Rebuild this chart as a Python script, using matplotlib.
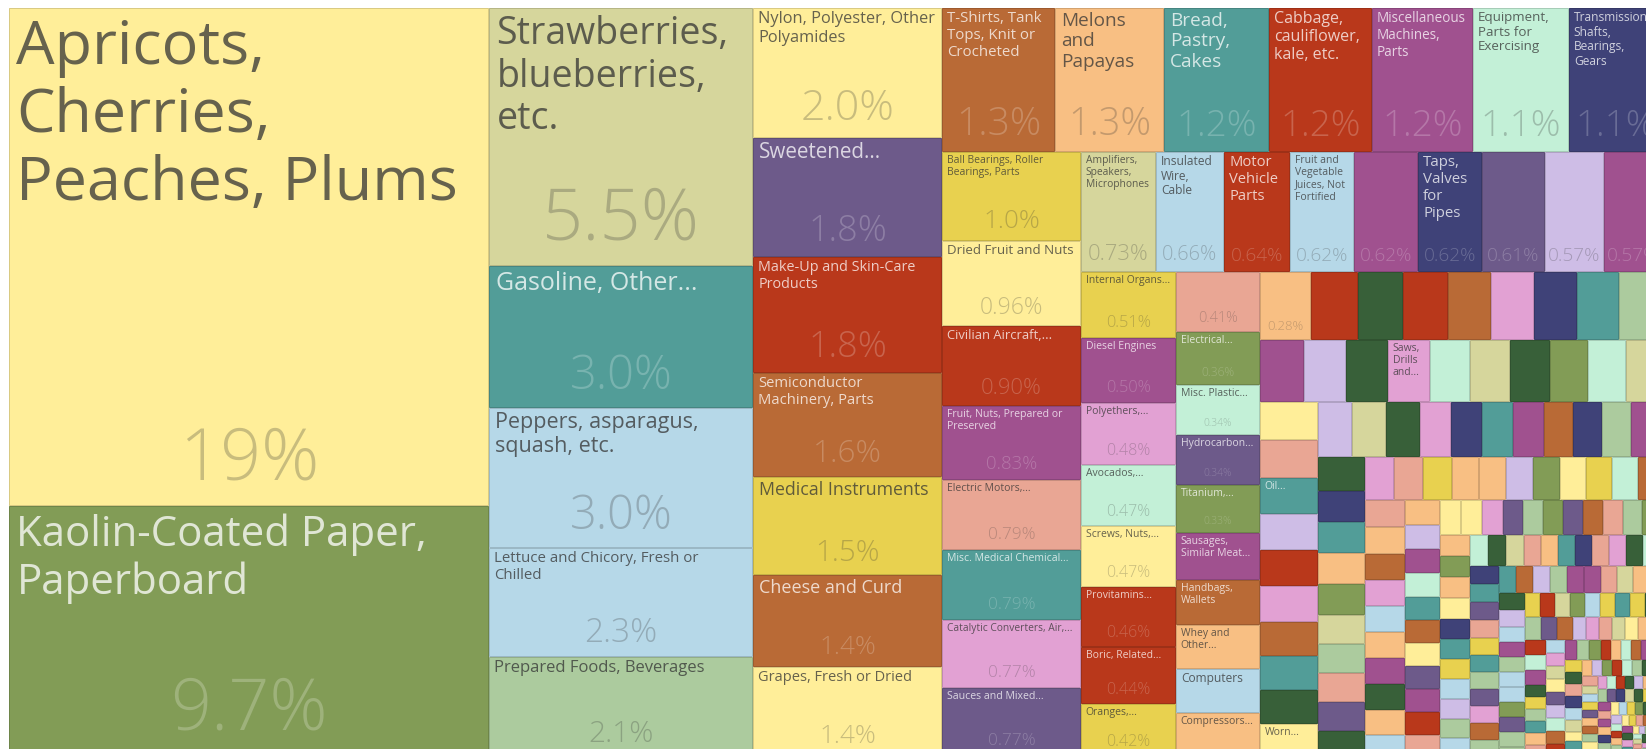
import math
import numpy as np
import matplotlib
matplotlib.use("Agg")
import matplotlib.pyplot as plt
from matplotlib.patches import Rectangle
from matplotlib import colors as mcolors

# ---------------- data ----------------
names = [
    "Apricots,\nCherries,\nPeaches, Plums",
    "Kaolin-Coated Paper,\nPaperboard",
    "Strawberries,\nblueberries,\netc.",
    "Gasoline, Other...",
    "Peppers, asparagus,\nsquash, etc.",
    "Lettuce and Chicory, Fresh or\nChilled",
    "Prepared Foods, Beverages",
    "Nylon, Polyester, Other\nPolyamides",
    "Sweetened...",
    "Make-Up and Skin-Care\nProducts",
    "Semiconductor\nMachinery, Parts",
    "Medical Instruments",
    "Cheese and Curd",
    "Grapes, Fresh or Dried",
    "T-Shirts, Tank\nTops, Knit or\nCrocheted",
    "Melons\nand\nPapayas",
    "Bread,\nPastry,\nCakes",
    "Cabbage,\ncauliflower,\nkale, etc.",
    "Miscellaneous\nMachines,\nParts",
    "Equipment,\nParts for\nExercising",
    "Transmission\nShafts,\nBearings,\nGears",
    "Ball Bearings, Roller\nBearings, Parts",
    "Dried Fruit and Nuts",
    "Civilian Aircraft,...",
    "Fruit, Nuts, Prepared or\nPreserved",
    "Electric Motors,...",
    "Misc. Medical Chemical...",
    "Catalytic Converters, Air,...",
    "Sauces and Mixed...",
    "Amplifiers,\nSpeakers,\nMicrophones",
    "Insulated\nWire,\nCable",
    "Motor\nVehicle\nParts",
    "Fruit and\nVegetable\nJuices, Not\nFortified",
    "",
    "Taps,\nValves\nfor\nPipes",
    "",
    "",
    "",
    "Internal Organs...",
    "Diesel Engines",
    "Polyethers,...",
    "Avocados,...",
    "Screws, Nuts,...",
    "Provitamins...",
    "Boric, Related...",
    "Oranges,...",
    "",
    "Electrical...",
    "Misc. Plastic...",
    "Hydrocarbon...",
    "Titanium,...",
    "Sausages,\nSimilar Meat...",
    "Handbags,\nWallets",
    "Whey and\nOther...",
    "Computers",
    "Compressors...",
]

shares = [
    19.4, 9.74, 5.53, 3.04, 3.00, 2.33, 2.12,
    2.00, 1.82, 1.78, 1.60, 1.50, 1.42, 1.38,
    1.32, 1.28, 1.23, 1.21, 1.18, 1.12, 1.08,
    1.00, 0.96, 0.90, 0.83, 0.79, 0.79, 0.77, 0.77,
    0.734, 0.66, 0.64, 0.62, 0.62, 0.62, 0.61, 0.574, 0.574,
    0.51, 0.50, 0.48, 0.47, 0.47, 0.46, 0.44, 0.42,
    0.41, 0.36, 0.34, 0.34, 0.33, 0.32, 0.31, 0.30, 0.30, 0.29,
]

colour_keys = "YOKTBBG" "YPRNUNY" "NATRMEV" "UYRMSTIP" "KBRBMVPLM" "UMIEYRRU" "SOEPOMNABA"

# unlabelled long tail of small products (share %)
tail_shares = [
    0.28, 0.26, 0.25, 0.25, 0.24, 0.24, 0.24, 0.23, 0.23,
    0.22, 0.21, 0.21, 0.21, 0.20, 0.20, 0.20, 0.19, 0.19, 0.19,
    0.18, 0.18, 0.17, 0.17, 0.17, 0.17, 0.16, 0.16, 0.16, 0.16,
    0.15, 0.15, 0.15, 0.14, 0.14, 0.14, 0.14, 0.13, 0.13, 0.13,
    0.13, 0.13, 0.12, 0.12, 0.12, 0.12, 0.11, 0.11, 0.11, 0.11,
    0.10, 0.10, 0.10, 0.10, 0.095, 0.095, 0.095, 0.095, 0.09, 0.09, 0.09,
    0.09, 0.089, 0.087, 0.086, 0.085, 0.085, 0.084, 0.083, 0.083, 0.082,
    0.072, 0.070, 0.068, 0.067, 0.067, 0.066, 0.066, 0.065, 0.065, 0.064, 0.064, 0.063,
    0.060, 0.060, 0.059, 0.058, 0.058, 0.057, 0.057, 0.056, 0.056, 0.055,
    0.052, 0.051, 0.050, 0.050, 0.050, 0.049, 0.049, 0.049, 0.048, 0.048, 0.047,
    0.046, 0.045, 0.045, 0.045, 0.044, 0.044, 0.044, 0.043, 0.043, 0.043,
    0.043, 0.042, 0.042, 0.042, 0.042, 0.042, 0.041, 0.041, 0.041, 0.040,
    0.039, 0.039, 0.038, 0.038, 0.038, 0.038, 0.037, 0.037, 0.037,
    0.035, 0.035, 0.035, 0.035, 0.035, 0.035,
    0.032, 0.032, 0.031, 0.031, 0.031, 0.031, 0.031, 0.031, 0.030, 0.030, 0.030, 0.030,
    0.029, 0.029, 0.029, 0.029, 0.029, 0.029, 0.029, 0.029, 0.029,
    0.025, 0.025, 0.025, 0.025, 0.025, 0.025, 0.025, 0.025, 0.025, 0.025,
    0.020, 0.020, 0.020, 0.020, 0.020, 0.020, 0.020, 0.020, 0.020,
    0.020, 0.020, 0.020, 0.020, 0.020, 0.020, 0.020, 0.020, 0.020,
    0.016, 0.016, 0.016, 0.016, 0.016, 0.016, 0.016, 0.016, 0.016, 0.016, 0.016, 0.016,
    0.013, 0.013, 0.013, 0.013, 0.013, 0.013, 0.013, 0.013, 0.013, 0.013, 0.013, 0.013,
    0.010, 0.010, 0.010, 0.010, 0.010, 0.010, 0.010, 0.010, 0.010, 0.010, 0.010, 0.010,
    0.010, 0.010, 0.010, 0.010, 0.010, 0.010, 0.010, 0.010, 0.010, 0.010, 0.010, 0.010,
    0.008, 0.008, 0.008, 0.008, 0.008, 0.008, 0.008, 0.008, 0.008, 0.008, 0.008, 0.008, 0.008, 0.008,
    0.006, 0.006, 0.006, 0.006, 0.006, 0.006, 0.006, 0.006, 0.006, 0.006, 0.006, 0.006, 0.006, 0.006,
    0.004, 0.004, 0.004, 0.004, 0.004, 0.004, 0.004, 0.004, 0.004, 0.004, 0.004, 0.004, 0.004, 0.004, 0.004, 0.004,
    0.003, 0.003, 0.003, 0.003, 0.003, 0.003, 0.003, 0.003, 0.003, 0.003, 0.003, 0.003, 0.003, 0.003,
    0.002, 0.002, 0.002, 0.002, 0.002, 0.002, 0.002, 0.002, 0.002, 0.002, 0.002, 0.002, 0.002, 0.002,
    0.001, 0.001, 0.001, 0.001, 0.001, 0.001, 0.001, 0.001, 0.001, 0.001,
    0.001, 0.001, 0.001, 0.001, 0.001, 0.001, 0.001, 0.001, 0.001, 0.001,
]
tail_colour_keys = (
    "ARDRNIVTG" "MLDIEKDOEK" "YSTLRINTDY" "LKDIVTMNVG" "MDVTAOKGSP"
    "DISUAALOYUE" "NSANIBAMDA" "BALMETNYPMRS" "YYIPGOPNSG" "OAOAYVTUBLG"
    "BEDKSATVSI" "DEVTPSUTGP" "INGTNLGMM" "SKAUDL" "BMGBBOPGGURK"
    "OBUTUDGPN" "LISKYAVREM" "DUGTASBIKYPLENRMGO" "RAENMGUDSVBK" "YTIALOREGDMS"
    "KBUPANGYTIERDLASGPVKDUBM" "SMAVGKYBUODITL" "ERAGPYUSNKBMDI" "TAYLGUREKSBDMAPI"
    "GYUAERKSDLTBMA" "YAGUSKEDBRILMT" "UYAGEKSBLRDMITPNOYAG"
)
tail_names = {12: "Saws,\nDrills\nand...", 21: "Oil...", 28: "Worn..."}

# ---------------- styles ----------------
palette = {
    "Y": "#FFEE99", "K": "#D6D69C", "T": "#529D98", "B": "#B6D8E8",
    "G": "#ACCB9E", "O": "#829C56", "P": "#6D5A8A", "R": "#B9381B",
    "N": "#B96A36", "U": "#E8D14F", "A": "#F8BF83", "M": "#A0518F",
    "E": "#C3F0D7", "V": "#3F4278", "S": "#E9A694", "I": "#E2A1D3",
    "L": "#CEBDE6", "D": "#386039",
}
# label / percentage font sizes in pixels for the labelled cells
label_px = [61, 42, 37.5, 25, 21.5, 15, 16.6,
            16.4, 20.6, 14.4, 14.8, 17.8, 18, 14.6,
            15, 19, 19, 16, 13.5, 13.4, 12,
            10.4, 13.4, 13, 10.5, 10.4, 10.5, 10.2, 10.5,
            10.3, 12, 14.7, 10.4, 0, 15, 0, 0, 0,
            10.4, 10.5, 10.4, 10.4, 10.4, 10.4, 10.4, 10.4,
            0, 10.4, 10.4, 10.4, 10.4, 10.4, 10.4, 10.4, 12, 10.4]
pct_px = [72, 72, 72, 47, 47, 33.5, 30,
          43, 36, 36, 31.5, 29.5, 26, 26,
          39, 38, 37, 37, 37, 37, 37,
          26, 23, 22, 18.6, 17.2, 17.2, 17.2, 17.2,
          22, 20, 19, 19, 19, 19, 19, 19, 19,
          16.4, 16.4, 16, 16, 16, 16, 16, 16,
          14.5, 12, 10.3, 10.3, 10.3, 0, 0, 0, 0, 0]
tail_pct_px = {0: 13.3}
tail_label_px = 10.4

FONT = ["Open Sans", "DejaVu Sans"]
PX = 72.0 / 100.0  # px -> pt at dpi 100

# ---------------- layout (d3 v3 squarify) ----------------
PHI = 0.5 * (1 + math.sqrt(5))


def rnd(v):
    return math.floor(v + 0.5)


def squarify(values, x, y, dx, dy, ratio=PHI):
    total = float(sum(values))
    k = dx * dy / total
    areas = [v * k for v in values]
    out = [None] * len(values)
    rect = {"x": x, "y": y, "dx": dx, "dy": dy}

    def worst(row, s, u):
        rmax = max(areas[j] for j in row)
        rmin = min(areas[j] for j in row)
        s2, u2 = s * s, u * u
        if s2 == 0 or u2 * rmin == 0:
            return math.inf
        return max(u2 * rmax * ratio / s2, s2 / (u2 * rmin * ratio))

    def position(row, s, u, flush):
        xx, yy = rect["x"], rect["y"]
        v = rnd(s / u) if u else 0
        last = row[-1]
        if u == rect["dx"]:
            if flush or v > rect["dy"]:
                v = rect["dy"]
            for j in row:
                w = min(rect["x"] + rect["dx"] - xx, rnd(areas[j] / v) if v else 0)
                out[j] = [xx, yy, w, v]
                xx += w
            out[last][2] += rect["x"] + rect["dx"] - xx
            rect["y"] += v
            rect["dy"] -= v
        else:
            if flush or v > rect["dx"]:
                v = rect["dx"]
            for j in row:
                h = min(rect["y"] + rect["dy"] - yy, rnd(areas[j] / v) if v else 0)
                out[j] = [xx, yy, v, h]
                yy += h
            out[last][3] += rect["y"] + rect["dy"] - yy
            rect["x"] += v
            rect["dx"] -= v

    row, s, best = [], 0.0, math.inf
    u = min(dx, dy)
    i, n = 0, len(values)
    while i < n:
        row.append(i)
        s += areas[i]
        score = worst(row, s, u)
        if score <= best:
            best = score
            i += 1
        else:
            row.pop()
            s -= areas[i]
            position(row, s, u, False)
            u = min(rect["dx"], rect["dy"])
            row, s, best = [], 0.0, math.inf
    if row:
        position(row, s, u, True)
    return out


def mix(c, target, t):
    a = np.array(mcolors.to_rgb(c))
    b = np.array(mcolors.to_rgb(target))
    return tuple(a * (1 - t) + b * t)


def is_light(c):
    r, g, b = mcolors.to_rgb(c)
    return (0.299 * r + 0.587 * g + 0.114 * b) * 255 > 160


def fmt_pct(v):
    if v >= 10:
        return f"{v:.0f}%"
    if v >= 1:
        return f"{v:.1f}%"
    return f"{v:.2f}%"


all_values = shares + tail_shares
all_names = names + [tail_names.get(i, "") for i in range(len(tail_shares))]
all_keys = colour_keys + "".join(tail_colour_keys[i % len(tail_colour_keys)]
                                 for i in range(len(tail_shares)))
all_label_px = label_px + [tail_label_px if i in tail_names else 0 for i in range(len(tail_shares))]
all_pct_px = pct_px + [tail_pct_px.get(i, 0) for i in range(len(tail_shares))]

X0, Y0, W, H = 9, 7, 1654, 748
rects = squarify(all_values, X0, Y0, W, H)

fig = plt.figure(figsize=(16.46, 7.49), dpi=100)
fig.patch.set_facecolor("white")
ax = fig.add_axes([0, 0, 1, 1])
ax.set_xlim(0, 1646)
ax.set_ylim(749, 0)
ax.axis("off")

for idx, (r, v) in enumerate(zip(rects, all_values)):
    if r is None:
        continue
    x, y, w, h = r
    if w <= 0 or h <= 0:
        continue
    fill = palette[all_keys[idx]]
    edge = mix(fill, "#000000", 0.15)
    patch = Rectangle((x + 0.5, y + 0.5), max(w - 1, 0.1), max(h - 1, 0.1),
                      facecolor=fill, edgecolor=edge, linewidth=1.0 * PX)
    ax.add_patch(patch)
    light = is_light(fill)
    if light:
        lab_c = mix(fill, "#333333", 0.75)
        pct_c = mix(fill, "#333333", 0.27)
    else:
        lab_c = mix(fill, "#ffffff", 0.75)
        pct_c = mix(fill, "#ffffff", 0.22)
    lpx = all_label_px[idx]
    if lpx and all_names[idx]:
        padx = min(7.5, 3 + 0.15 * lpx)
        pady = 2 + 0.15 * lpx
        t = ax.text(x + padx, y + pady, all_names[idx], fontsize=lpx * PX,
                    family=FONT, color=lab_c, ha="left", va="top",
                    linespacing=1.17)
        t.set_clip_path(patch)
    ppx = all_pct_px[idx]
    if ppx:
        t = ax.text(x + w / 2.0, y + h - (0.28 * ppx + 5), fmt_pct(v),
                    fontsize=ppx * PX, family=FONT, color=pct_c,
                    ha="center", va="baseline", fontweight=300)
        t.set_clip_path(patch)

fig.savefig("out.png", dpi=100, facecolor="white")
